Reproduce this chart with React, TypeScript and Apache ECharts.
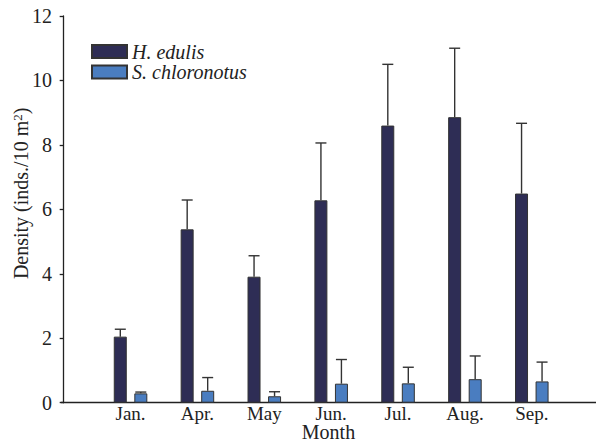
import React, { useEffect, useRef } from "react";
import * as echarts from "echarts";

const months = ["Jan.", "Apr.", "May", "Jun.", "Jul.", "Aug.", "Sep."];
const positions = [1, 2, 3, 4, 5, 6, 7];
const hEdulis = [2.05, 5.38, 3.91, 6.28, 8.6, 8.86, 6.49];
const hEdulisErr = [2.28, 6.29, 4.56, 8.06, 10.5, 11.0, 8.67];
const sChloro = [0.29, 0.37, 0.2, 0.59, 0.6, 0.73, 0.66];
const sChloroErr = [0.33, 0.78, 0.34, 1.34, 1.1, 1.45, 1.26];
const yTicks = [0, 2, 4, 6, 8, 10, 12];

const FONT = "'Liberation Serif', 'DejaVu Serif', serif";
const DARK = "#2e2d55";
const LIGHT = "#4a7dc0";
const FS = 20;

export default function App() {
  const ref = useRef<HTMLDivElement>(null);
  useEffect(() => {
    if (!ref.current) return;
    const chart = echarts.init(ref.current, null, { renderer: "svg" });
    const barW = 13;
    const half = 10.25;
    const errSeries = (vals: number[], errs: number[], offset: number) => ({
      type: "custom",
      z: 5,
      silent: true,
      data: positions.map((p, i) => [p, vals[i], errs[i]]),
      encode: { x: 0, y: [1, 2] },
      renderItem: (params: any, api: any) => {
        const x = api.value(0);
        const base = api.coord([x, api.value(1)]);
        const top = api.coord([x, api.value(2)]);
        const cx = base[0] + offset;
        const cap = 5.5;
        return {
          type: "group",
          children: [
            {
              type: "line",
              shape: { x1: cx, y1: base[1], x2: cx, y2: top[1] },
              style: { stroke: "#333", lineWidth: 1.4 },
            },
            {
              type: "line",
              shape: { x1: cx - cap, y1: top[1], x2: cx + cap, y2: top[1] },
              style: { stroke: "#333", lineWidth: 1.4 },
            },
          ],
        };
      },
    });
    chart.setOption({
      animation: false,
      backgroundColor: "#fff",
      textStyle: { fontFamily: FONT },
      grid: {
        left: 61,
        right: 0,
        top: 16,
        bottom: 39.3,
        containLabel: false,
        outerBoundsMode: "none",
      },
      legend: {
        orient: "vertical",
        left: 86,
        top: 36.5,
        itemWidth: 35,
        itemHeight: 13,
        itemGap: 0.5,
        icon: "rect",
        data: ["H. edulis", "S. chloronotus"],
        textStyle: { fontFamily: FONT, fontStyle: "italic", fontSize: FS, color: "#222" },
      },
      xAxis: {
        type: "value",
        min: -0.04,
        max: 7.96,
        splitLine: { show: false },
        axisLine: { show: true, onZero: false, lineStyle: { color: "#222", width: 1.3 } },
        axisTick: { show: false },
        axisLabel: {
          customValues: positions,
          formatter: (v: number) => months[Math.round(v) - 1] ?? "",
          fontFamily: FONT,
          fontSize: 19,
          lineHeight: 16,
          color: "#222",
          margin: 3,
        },
        name: "Month",
        nameLocation: "middle",
        nameGap: 21,
        nameMoveOverlap: false,
        nameTextStyle: { fontFamily: FONT, fontSize: FS, lineHeight: 16, color: "#222" },
      },
      yAxis: {
        type: "value",
        min: 0,
        max: 12,
        interval: 2,
        splitLine: { show: false },
        axisLine: { show: true, lineStyle: { color: "#222", width: 1.3 } },
        axisTick: { show: true, length: 4, lineStyle: { color: "#222", width: 1.3 } },
        axisLabel: {
          customValues: yTicks,
          fontFamily: FONT,
          fontSize: FS,
          color: "#222",
          margin: 9,
        },
        name: "{a|Density (inds./10 m}{s|2}{a|)}",
        nameLocation: "middle",
        nameGap: 29.5,
        nameMoveOverlap: false,
        nameTextStyle: {
          padding: [0, 0, 0, 32],
          rich: {
            a: { fontFamily: FONT, fontSize: FS, color: "#222" },
            s: { fontFamily: FONT, fontSize: 13, color: "#222", verticalAlign: "top", padding: [0, 0, 8, 0] },
          },
        },
      },
      series: [
        {
          name: "H. edulis",
          type: "bar",
          barWidth: barW,
          barGap: "58%",
          data: positions.map((p, i) => [p, hEdulis[i]]),
          itemStyle: { color: DARK, borderColor: "#333", borderWidth: 1 },
        },
        {
          name: "S. chloronotus",
          type: "bar",
          barWidth: barW,
          barGap: "58%",
          data: positions.map((p, i) => [p, sChloro[i]]),
          itemStyle: { color: LIGHT, borderColor: "#333", borderWidth: 1 },
        },
        errSeries(hEdulis, hEdulisErr, -half),
        errSeries(sChloro, sChloroErr, half),
      ],
    });
    return () => chart.dispose();
  }, []);
  return <div ref={ref} style={{ width: 596, height: 442, position: "absolute", left: 0, top: 0 }} />;
}
